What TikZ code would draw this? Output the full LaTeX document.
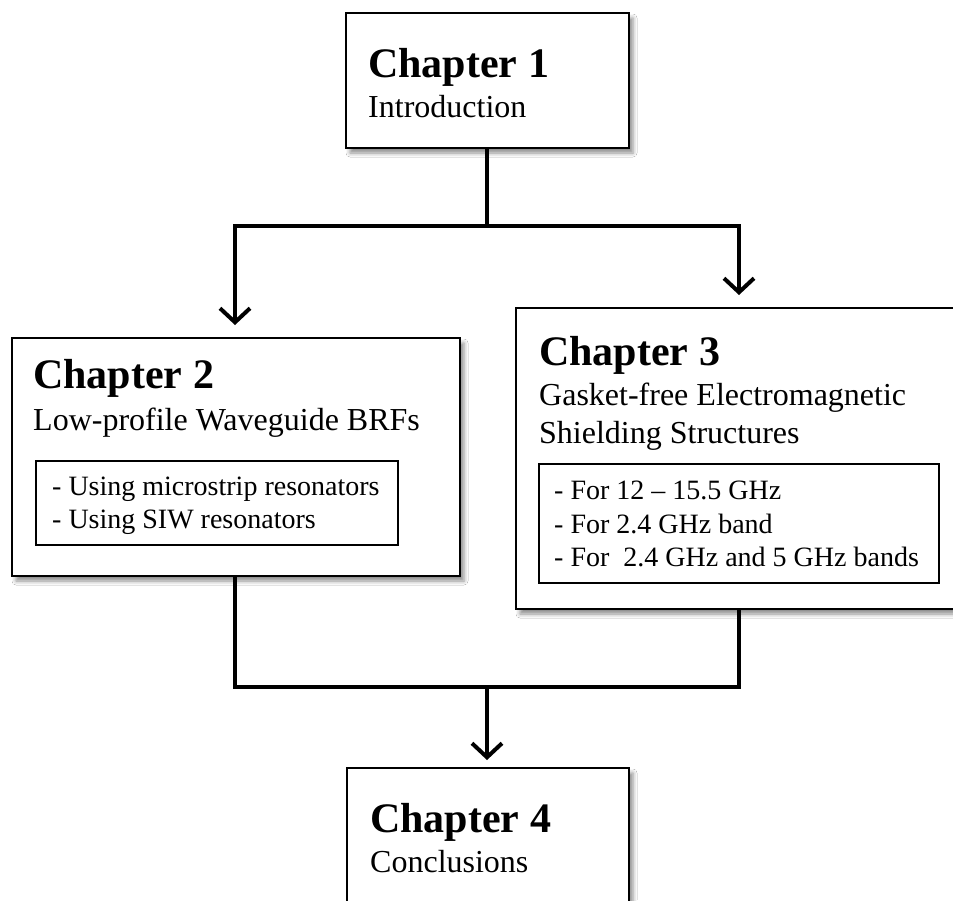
\documentclass[tikz,border=0pt]{standalone}
\usepackage{fontspec}
\setmainfont{Liberation Serif}
\usetikzlibrary{arrows.meta,shadows.blur}
\tikzset{
  chapbox/.style={draw=black, line width=2pt, fill=white, rectangle, inner sep=0pt,
    blur shadow={shadow xshift=4pt, shadow yshift=-5pt, shadow blur radius=4pt, shadow opacity=45}},
  listbox/.style={draw=black, line width=1.5pt, fill=none, rectangle, inner sep=0pt},
  chaptitle/.style={anchor=base west, inner sep=0pt, font=\fontsize{42}{48}\selectfont\bfseries},
  chapsub/.style={anchor=base west, inner sep=0pt, font=\fontsize{32}{38}\selectfont},
  item/.style={anchor=base west, inner sep=0pt, font=\fontsize{28}{33}\selectfont},
  conn/.style={line width=4pt, line cap=rect},
  arr/.style={line width=4pt, -{Straight Barb[length=14pt,width=30pt,line width=4pt]}}
}
\begin{document}
\begin{tikzpicture}[x=1pt,y=-1pt]
\clip (0,0) rectangle (953,900);
\fill[white] (0,0) rectangle (953,900);

% boxes (positioned by north west corner)
\node[chapbox, anchor=north west, minimum width=283pt, minimum height=135pt] (c1) at (345,12) {};
\node[chapbox, anchor=north west, minimum width=448pt, minimum height=238pt] (c2) at (11,337) {};
\node[chapbox, anchor=north west, minimum width=448pt, minimum height=301pt] (c3) at (515,307) {};
\node[chapbox, anchor=north west, minimum width=282pt, minimum height=160pt] (c4) at (346,767) {};

\node[listbox, anchor=north west, minimum width=362pt, minimum height=84pt] (l2) at (35,460) {};
\node[listbox, anchor=north west, minimum width=400pt, minimum height=119pt] (l3) at (538,463) {};

% texts
\node[chaptitle] (t1) at (368,77) {Chapter 1};
\node[chapsub] (s1) at (368,117) {Introduction};

\node[chaptitle] (t2) at (33,388) {Chapter 2};
\node[chapsub] (s2) at (33,430) {Low-profile Waveguide BRFs};
\node[item] (i21) at (52,495) {- Using microstrip resonators};
\node[item] (i22) at (52,528) {- Using SIW resonators};

\node[chaptitle] (t3) at (539,365) {Chapter 3};
\node[chapsub] (s3a) at (539,405) {Gasket-free Electromagnetic};
\node[chapsub] (s3b) at (539,443) {Shielding Structures};
\node[item] (i31) at (554,499) {- For 12 – 15.5 GHz};
\node[item] (i32) at (554,533) {- For 2.4 GHz band};
\node[item] (i33) at (554,566) {- For\ \ 2.4 GHz and 5 GHz bands};

\node[chaptitle] (t4) at (370,832) {Chapter 4};
\node[chapsub] (s4) at (370,872) {Conclusions};

% connectors
\coordinate (jt) at (487,226);
\coordinate (jl) at (235,226);
\coordinate (jr) at (739,226);
\coordinate (bl) at (235,687);
\coordinate (br) at (739,687);
\coordinate (bm) at (487,687);

\draw[conn] (c1.south -| jt) -- (jt);
\draw[conn] (jl) -- (jr);
\draw[arr] (jl) -- ([yshift=12pt]jl |- c2.north);
\draw[arr] (jr) -- ([yshift=12pt]jr |- c3.north);

\draw[conn] (c2.south -| bl) -- (bl) -- (br) -- (c3.south -| br);
\draw[arr] (bm) -- ([yshift=7pt]bm |- c4.north);
\end{tikzpicture}
\end{document}
